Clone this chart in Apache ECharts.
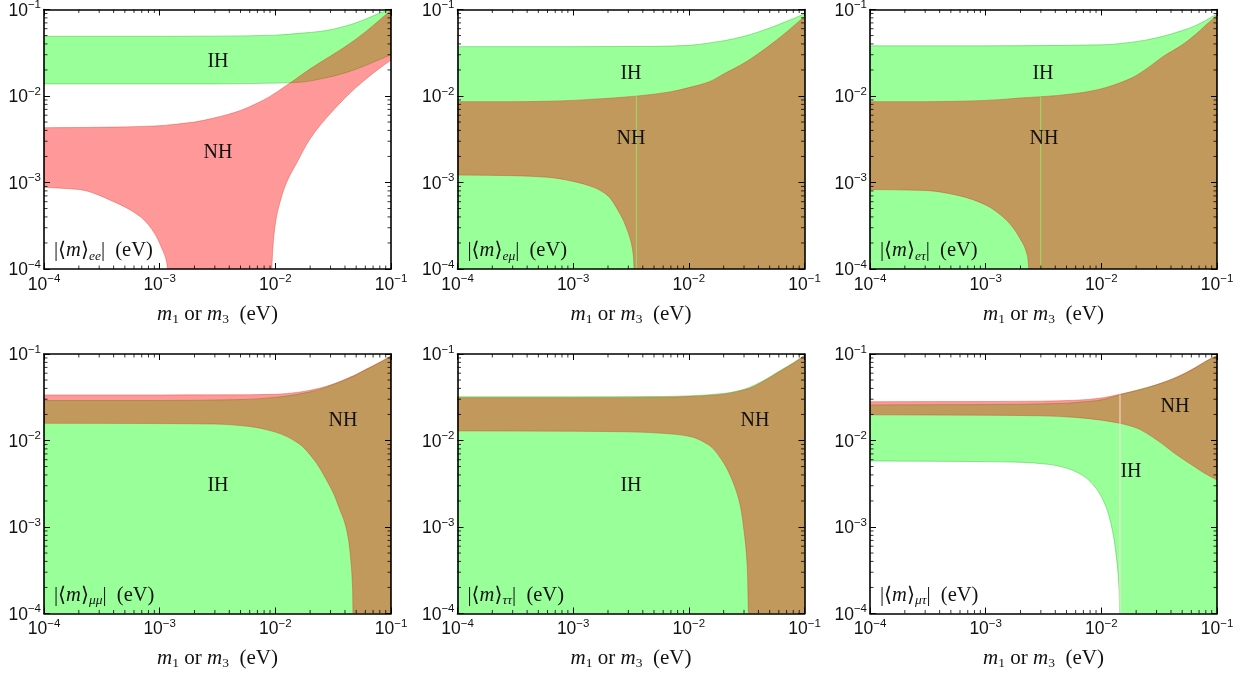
<!DOCTYPE html>
<html><head><meta charset="utf-8">
<script src="https://cdn.jsdelivr.net/npm/echarts@6/dist/echarts.min.js"></script>
<style>html,body{margin:0;padding:0;background:#fff}#c{width:1247px;height:675px}</style>
</head><body><div id="c"></div>
<script>
// "zero" lower bound: lies below the plotted range (band reaches 0)
const F = 1e-5;

// tick labels
const tickValues = [1e-4, 1e-3, 1e-2, 1e-1];
const tickExponents = ['\u22124', '\u22123', '\u22122', '\u22121'];
const minorMultipliers = [2, 3, 4, 5, 6, 7, 8, 9];
const minorDecades = [1e-4, 1e-3, 1e-2];

// ---- |<m>_ee| ----
const eeIH_x  = [1e-4, 1e-3, 3e-3, 1e-2, 1.6e-2, 2.5e-2, 4e-2, 6e-2, 8e-2, 1e-1];
const eeIH_hi = [0.049, 0.049, 0.0492, 0.0505, 0.053, 0.056, 0.064, 0.077, 0.091, 0.1];
const eeIH_lo = [0.0138, 0.0138, 0.0138, 0.0141, 0.0144, 0.0158, 0.0185, 0.0225, 0.0265, 0.030];
const eeNH_x  = [1e-4, 2e-4, 4e-4, 7e-4, 9e-4, 1.05e-3, 1.15e-3, 1.3e-3, 2e-3, 3e-3, 5e-3, 7e-3, 9e-3, 9.4e-3, 1e-2, 1.1e-2, 1.25e-2, 1.5e-2, 2e-2, 3e-2, 4e-2, 6e-2, 8e-2, 1e-1];
const eeNH_hi = [0.0043, 0.00432, 0.00437, 0.00445, 0.0045, 0.00455, 0.0046, 0.00468, 0.005, 0.0056, 0.0068, 0.0083, 0.0099, 0.0103, 0.0108, 0.0118, 0.0133, 0.0157, 0.0206, 0.029, 0.037, 0.055, 0.076, 0.098];
const eeNH_lo = [0.00088, 0.00083, 0.0006, 0.00039, 0.00026, 0.00017, 0.00012, F, F, F, F, F, F, 0.00013, 0.00033, 0.0006, 0.001, 0.0016, 0.0032, 0.0063, 0.0095, 0.0155, 0.021, 0.026];

// ---- |<m>_emu| ----
const emIH_x  = [1e-4, 1e-3, 5e-3, 1e-2, 1.5e-2, 2e-2, 3e-2, 4e-2, 5e-2, 6e-2, 7e-2, 8.5e-2, 1e-1];
const emIH_hi = [0.0372, 0.0372, 0.0375, 0.0385, 0.041, 0.0435, 0.049, 0.055, 0.061, 0.067, 0.073, 0.081, 0.090];
const emIH_lo = [F, F, F, F, F, F, F, F, F, F, F, F, F];
const emNH_x  = [1e-4, 3e-4, 6e-4, 1e-3, 1.5e-3, 2e-3, 2.5e-3, 3e-3, 3.3e-3, 3.6e-3, 7e-3, 1e-2, 1.5e-2, 2e-2, 3e-2, 4e-2, 5.7e-2, 7e-2, 1e-1];
const emNH_hi = [0.0086, 0.0086, 0.0087, 0.0089, 0.0092, 0.0094, 0.0096, 0.0098, 0.0099, 0.0100, 0.0112, 0.0125, 0.0146, 0.018, 0.024, 0.031, 0.044, 0.055, 0.083];
const emNH_lo = [0.00122, 0.0012, 0.00115, 0.00103, 0.00088, 0.0007, 0.00045, 0.00026, 0.00015, F, F, F, F, F, F, F, F, F, F];
const emSeam  = [3.52e-3, 0.0100];

// ---- |<m>_etau| ----
const etIH_x  = [1e-4, 1e-3, 5e-3, 1e-2, 2e-2, 3e-2, 4e-2, 5e-2, 6.5e-2, 8e-2, 1e-1];
const etIH_hi = [0.038, 0.038, 0.0385, 0.039, 0.0425, 0.047, 0.052, 0.057, 0.065, 0.075, 0.089];
const etIH_lo = [F, F, F, F, F, F, F, F, F, F, F];
const etNH_x  = [1e-4, 3e-4, 6e-4, 1e-3, 1.5e-3, 2e-3, 2.3e-3, 2.6e-3, 3e-3, 6e-3, 9e-3, 1.3e-2, 1.8e-2, 2.5e-2, 3.4e-2, 5e-2, 6.7e-2, 8e-2, 1e-1];
const etNH_hi = [0.0086, 0.0086, 0.0087, 0.0089, 0.0092, 0.0095, 0.0096, 0.0097, 0.0098, 0.0107, 0.0117, 0.0135, 0.016, 0.021, 0.0285, 0.039, 0.053, 0.066, 0.086];
const etNH_lo = [0.00083, 0.00081, 0.0007, 0.00055, 0.00037, 0.00022, 0.00014, F, F, F, F, F, F, F, F, F, F, F, F];
const etSeam  = [2.99e-3, 0.0098];

// ---- |<m>_mumu| ----
const mmIH_x  = [1e-4, 1e-3, 5e-3, 1e-2, 2e-2, 3.2e-2, 4.5e-2, 6.2e-2, 8e-2, 1e-1];
const mmIH_hi = [0.029, 0.029, 0.0297, 0.0315, 0.0365, 0.0445, 0.0535, 0.0665, 0.0795, 0.094];
const mmIH_lo = [F, F, F, F, F, F, F, F, F, F];
const mmNH_x  = [1e-4, 1e-3, 3e-3, 6e-3, 1e-2, 1.6e-2, 2.2e-2, 2.8e-2, 3.2e-2, 3.6e-2, 4e-2, 4.3e-2, 4.5e-2, 4.65e-2, 4.8e-2, 6e-2, 8e-2, 1e-1];
const mmNH_hi = [0.0336, 0.0336, 0.0337, 0.0338, 0.0342, 0.0362, 0.0392, 0.0425, 0.0452, 0.048, 0.051, 0.053, 0.0545, 0.0555, 0.0565, 0.066, 0.0805, 0.095];
const mmNH_lo = [0.0158, 0.0157, 0.0155, 0.0145, 0.0125, 0.0092, 0.0058, 0.0034, 0.0024, 0.0016, 0.0011, 0.0007, 0.0004, 0.0002, F, F, F, F];

// ---- |<m>_tautau| ----
const ttIH_x  = [1e-4, 1e-3, 5e-3, 1e-2, 2e-2, 3e-2, 4.5e-2, 6e-2, 8e-2, 1e-1];
const ttIH_hi = [0.032, 0.032, 0.0322, 0.0328, 0.035, 0.039, 0.05, 0.063, 0.079, 0.097];
const ttIH_lo = [F, F, F, F, F, F, F, F, F, F];
const ttNH_x  = [1e-4, 1e-3, 3e-3, 6e-3, 1e-2, 1.5e-2, 2e-2, 2.5e-2, 2.8e-2, 3e-2, 3.2e-2, 3.4e-2, 4.5e-2, 6e-2, 8e-2, 1e-1];
const ttNH_hi = [0.0312, 0.0312, 0.0313, 0.0316, 0.0322, 0.0332, 0.0343, 0.0362, 0.0374, 0.0383, 0.0393, 0.0404, 0.049, 0.062, 0.078, 0.096];
const ttNH_lo = [0.0129, 0.0128, 0.0126, 0.0121, 0.0112, 0.0088, 0.0055, 0.0029, 0.0017, 0.0009, 0.00035, F, F, F, F, F];

// ---- |<m>_mutau| ----
const mtIH_x  = [1e-4, 1e-3, 2e-3, 3.5e-3, 5e-3, 7e-3, 9e-3, 1.1e-2, 1.25e-2, 1.35e-2, 1.42e-2, 1.5e-2, 2.5e-2, 3.5e-2, 5e-2, 6.7e-2, 8e-2, 1e-1];
const mtIH_hi = [0.0258, 0.026, 0.0262, 0.0266, 0.027, 0.028, 0.0288, 0.0303, 0.0318, 0.0328, 0.0335, 0.0342, 0.041, 0.047, 0.057, 0.071, 0.082, 0.096];
const mtIH_lo = [0.0058, 0.0057, 0.0056, 0.0053, 0.0048, 0.0039, 0.0028, 0.0017, 0.0009, 0.00045, 0.0002, F, F, F, F, F, F, F];
const mtNH_x  = [1e-4, 1e-3, 3e-3, 6e-3, 1e-2, 1.45e-2, 2e-2, 3e-2, 4.5e-2, 6.5e-2, 8e-2, 1e-1];
const mtNH_hi = [0.0281, 0.0282, 0.0285, 0.0292, 0.031, 0.0343, 0.0378, 0.0442, 0.0543, 0.0697, 0.0824, 0.0962];
const mtNH_lo = [0.0198, 0.0196, 0.0193, 0.0185, 0.0172, 0.0158, 0.014, 0.0102, 0.0068, 0.0049, 0.0041, 0.0035];
const mtSeam  = [1.45e-2, 0.0341];

// ---------------- layout / style ----------------
const GRIDS = [
  {left: 44, top: 9.5}, {left: 457.5, top: 9.5}, {left: 870, top: 9.5},
  {left: 44, top: 354}, {left: 457.5, top: 354}, {left: 870, top: 354}
];
const GW = 347, GH = 259.5;
const SANS = 'Liberation Sans, Arial, sans-serif';
const SERIF = 'Liberation Serif, DejaVu Serif, serif';
const TXT = '#111';

const panels = [
  {sub: 'ee',             IH: [eeIH_x, eeIH_lo, eeIH_hi], NH: [eeNH_x, eeNH_lo, eeNH_hi], seam: null,   seamColor: null, ih: [218, 62],  nh: [218, 153]},
  {sub: 'e\u03bc',        IH: [emIH_x, emIH_lo, emIH_hi], NH: [emNH_x, emNH_lo, emNH_hi], seam: emSeam, seamColor: 'rgba(150,225,110,0.9)', ih: [631, 74],  nh: [631, 139]},
  {sub: 'e\u03c4',        IH: [etIH_x, etIH_lo, etIH_hi], NH: [etNH_x, etNH_lo, etNH_hi], seam: etSeam, seamColor: 'rgba(150,225,110,0.9)', ih: [1043, 74], nh: [1044, 139]},
  {sub: '\u03bc\u03bc',   IH: [mmIH_x, mmIH_lo, mmIH_hi], NH: [mmNH_x, mmNH_lo, mmNH_hi], seam: null,   seamColor: null, ih: [218, 486], nh: [343, 421]},
  {sub: '\u03c4\u03c4',   IH: [ttIH_x, ttIH_lo, ttIH_hi], NH: [ttNH_x, ttNH_lo, ttNH_hi], seam: null,   seamColor: null, ih: [631, 486], nh: [755, 421]},
  {sub: '\u03bc\u03c4',   IH: [mtIH_x, mtIH_lo, mtIH_hi], NH: [mtNH_x, mtNH_lo, mtNH_hi], seam: mtSeam, seamColor: 'rgba(255,225,220,0.95)', ih: [1131, 472], nh: [1175, 407]}
];

const IH_FILL = 'rgba(0,255,0,0.4)', IH_STROKE = 'rgba(40,190,40,0.55)';
const NH_FILL = 'rgba(255,0,0,0.4)', NH_STROKE = 'rgba(215,60,40,0.5)';

// monotone cubic control points in pixel space
function monoCtrl(p) {
  const n = p.length, d = [], s = [], m = new Array(n);
  for (let i = 0; i < n - 1; i++) { d[i] = p[i + 1][0] - p[i][0]; s[i] = (p[i + 1][1] - p[i][1]) / d[i]; }
  m[0] = s[0]; m[n - 1] = s[n - 2];
  for (let i = 1; i < n - 1; i++) {
    if (s[i - 1] * s[i] <= 0) m[i] = 0;
    else { const h0 = d[i - 1], h1 = d[i]; m[i] = 3 * (h0 + h1) / ((2 * h1 + h0) / s[i - 1] + (h1 + 2 * h0) / s[i]); }
  }
  const segs = [];
  for (let i = 0; i < n - 1; i++) {
    const h = d[i] / 3;
    segs.push([p[i][0] + h, p[i][1] + m[i] * h, p[i + 1][0] - h, p[i + 1][1] - m[i + 1] * h]);
  }
  return segs;
}
function bandPath(up, dn) {
  const f = v => v.toFixed(2);
  let str = 'M' + f(up[0][0]) + ',' + f(up[0][1]);
  const su = monoCtrl(up);
  for (let i = 0; i < su.length; i++) str += 'C' + su[i].map(f).join(',') + ',' + f(up[i + 1][0]) + ',' + f(up[i + 1][1]);
  const n = dn.length;
  str += 'L' + f(dn[n - 1][0]) + ',' + f(dn[n - 1][1]);
  const sd = monoCtrl(dn);
  for (let i = n - 2; i >= 0; i--) str += 'C' + f(sd[i][2]) + ',' + f(sd[i][3]) + ',' + f(sd[i][0]) + ',' + f(sd[i][1]) + ',' + f(dn[i][0]) + ',' + f(dn[i][1]);
  return str + 'Z';
}

function bandSeries(g, band, fill, stroke, z) {
  const xs = band[0], lo = band[1], hi = band[2];
  return {
    type: 'custom', coordinateSystem: 'cartesian2d', xAxisIndex: 2 * g, yAxisIndex: 2 * g, z: z, silent: true,
    data: xs.map((x, i) => [x, hi[i], lo[i]]),
    renderItem: function (params, api) {
      if (params.dataIndex !== 0) return null;
      const cs = params.coordSys;
      const up = xs.map((x, i) => api.coord([x, hi[i]]));
      const dn = xs.map((x, i) => api.coord([x, lo[i]]));
      return {
        type: 'group',
        clipPath: {type: 'rect', shape: {x: cs.x, y: cs.y, width: cs.width, height: cs.height}},
        children: [{type: 'path', shape: {pathData: bandPath(up, dn)}, style: {fill: fill, stroke: stroke, lineWidth: 0.8}}]
      };
    }
  };
}

function minorTickSeries(g) {
  const vals = [];
  minorDecades.forEach(dec => minorMultipliers.forEach(k => vals.push(k * dec)));
  return {
    type: 'custom', coordinateSystem: 'cartesian2d', xAxisIndex: 2 * g, yAxisIndex: 2 * g, z: 8, silent: true,
    data: [[1e-4, 1e-4]],
    renderItem: function (params, api) {
      const cs = params.coordSys, L = 3.5, ch = [];
      const st = {stroke: '#000', lineWidth: 0.8};
      vals.forEach(v => {
        const px = api.coord([v, 1e-4])[0];
        const py = api.coord([1e-4, v])[1];
        ch.push({type: 'line', shape: {x1: px, y1: cs.y + cs.height, x2: px, y2: cs.y + cs.height - L}, style: st});
        ch.push({type: 'line', shape: {x1: px, y1: cs.y, x2: px, y2: cs.y + L}, style: st});
        ch.push({type: 'line', shape: {x1: cs.x, y1: py, x2: cs.x + L, y2: py}, style: st});
        ch.push({type: 'line', shape: {x1: cs.x + cs.width, y1: py, x2: cs.x + cs.width - L, y2: py}, style: st});
      });
      return {type: 'group', children: ch};
    }
  };
}

const tickRich = {
  b: {fontFamily: SANS, fontSize: 17.5, lineHeight: 21, verticalAlign: 'bottom', color: TXT},
  s: {fontFamily: SANS, fontSize: 11.5, verticalAlign: 'top', color: TXT}
};
function expLabel(v) {
  const e = Math.round(Math.log10(v));
  const i = tickValues.findIndex(t => Math.round(Math.log10(t)) === e);
  return i < 0 ? '' : '{b|10}{s|' + tickExponents[i] + '}';
}
const titleRich = {
  i: {fontFamily: SERIF, fontStyle: 'italic', fontSize: 21, lineHeight: 24, color: TXT},
  d: {fontFamily: SERIF, fontSize: 13.5, verticalAlign: 'bottom', color: TXT},
  n: {fontFamily: SERIF, fontSize: 21, lineHeight: 24, color: TXT}
};
const X_TITLE = '{i|m}{d|1}{n| or }{i|m}{d|3}{n|  (eV)}';

const grids = [], xAxes = [], yAxes = [], series = [], graphics = [];
GRIDS.forEach((gr, g) => {
  grids.push({left: gr.left, top: gr.top, width: GW, height: GH, containLabel: false, outerBoundsMode: 'none', show: false});
  const common = {
    type: 'log', logBase: 10, gridIndex: g, min: 1e-4, max: 1e-1, z: 6, silent: true,
    splitLine: {show: false}, minorTick: {show: false}, minorSplitLine: {show: false},
    axisLine: {show: true, onZero: false, lineStyle: {color: '#000', width: 1.6}},
    axisTick: {show: true, inside: true, length: 6, lineStyle: {color: '#000', width: 1}},
    axisPointer: {show: false}
  };
  xAxes.push(Object.assign({}, common, {
    position: 'bottom',
    axisLabel: {show: true, margin: 4, formatter: expLabel, rich: tickRich},
    name: X_TITLE, nameLocation: 'middle', nameGap: 33, nameTextStyle: {rich: titleRich}
  }));
  xAxes.push(Object.assign({}, common, {position: 'top', axisLabel: {show: false}}));
  yAxes.push(Object.assign({}, common, {position: 'left', axisLabel: {show: true, margin: 3, formatter: expLabel, rich: tickRich}}));
  yAxes.push(Object.assign({}, common, {position: 'right', axisLabel: {show: false}}));
});

panels.forEach((p, g) => {
  series.push(bandSeries(g, p.IH, IH_FILL, IH_STROKE, 2));
  series.push(bandSeries(g, p.NH, NH_FILL, NH_STROKE, 3));
  if (p.seam) {
    series.push({
      type: 'line', xAxisIndex: 2 * g, yAxisIndex: 2 * g, z: 4, silent: true, symbol: 'none',
      data: [[p.seam[0], 1e-4], [p.seam[0], p.seam[1]]],
      lineStyle: {color: p.seamColor, width: 1}
    });
  }
  series.push(minorTickSeries(g));
  const gr = GRIDS[g];
  graphics.push({
    type: 'text', x: gr.left + 10, y: gr.top + GH - 18, z: 100, silent: true,
    style: {
      text: '{n|\u007c\u27e8}{i|m}{n|\u27e9}{d|' + p.sub + '}{n|\u007c  (eV)}',
      align: 'left', verticalAlign: 'middle',
      rich: {
        n: {fontFamily: SERIF, fontSize: 20.5, lineHeight: 24, fill: TXT, color: TXT},
        i: {fontFamily: SERIF, fontStyle: 'italic', fontSize: 20.5, lineHeight: 24, fill: TXT, color: TXT},
        d: {fontFamily: SERIF, fontStyle: 'italic', fontSize: 13.5, verticalAlign: 'bottom', fill: TXT, color: TXT}
      }
    }
  });
  [['IH', p.ih], ['NH', p.nh]].forEach(([t, pos]) => {
    graphics.push({
      type: 'text', x: pos[0], y: pos[1], z: 100, silent: true,
      style: {text: t, fontFamily: SERIF, fontSize: 20, fill: '#111', align: 'center', verticalAlign: 'middle'}
    });
  });
});

const chart = echarts.init(document.getElementById('c'), null, {renderer: 'canvas', width: 1247, height: 675});
chart.setOption({
  animation: false,
  backgroundColor: '#fff',
  textStyle: {fontFamily: SANS},
  grid: grids, xAxis: xAxes, yAxis: yAxes, series: series,
  graphic: graphics
});
</script>
</body></html>
